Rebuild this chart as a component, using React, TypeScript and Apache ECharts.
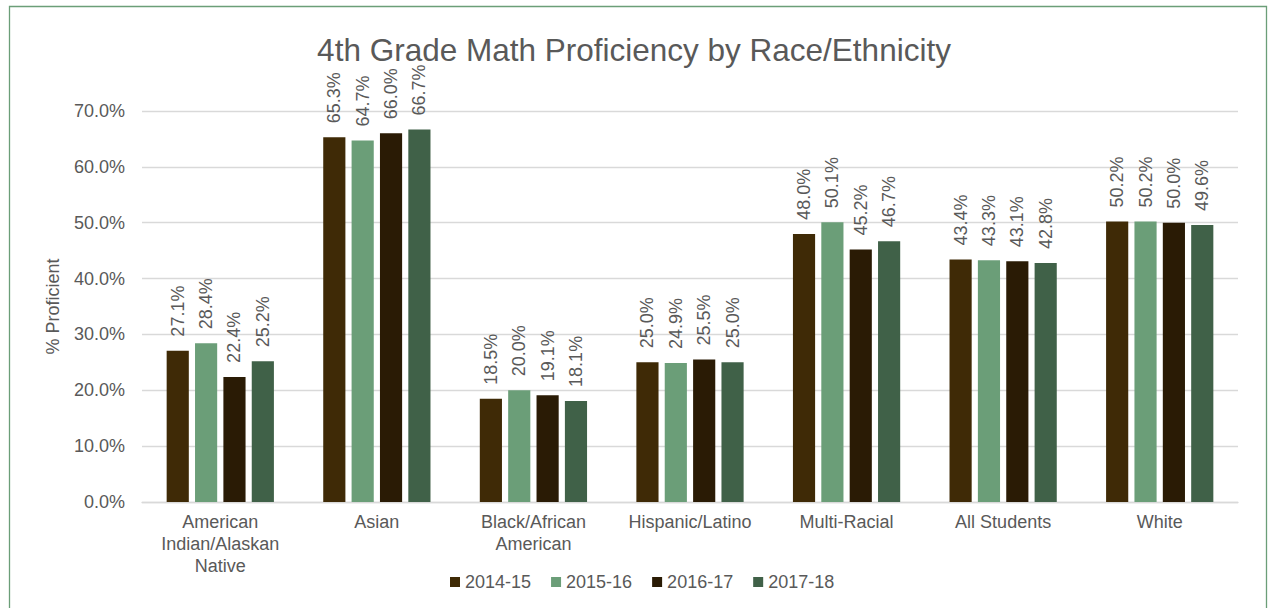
import React, { useEffect, useRef } from "react";
import * as echarts from "echarts";

const categories = [
  "American\nIndian/Alaskan\nNative",
  "Asian",
  "Black/African\nAmerican",
  "Hispanic/Latino",
  "Multi-Racial",
  "All Students",
  "White",
];
const seriesNames = ["2014-15", "2015-16", "2016-17", "2017-18"];
const values2014 = [27.1, 65.3, 18.5, 25.0, 48.0, 43.4, 50.2];
const values2015 = [28.4, 64.7, 20.0, 24.9, 50.1, 43.3, 50.2];
const values2016 = [22.4, 66.0, 19.1, 25.5, 45.2, 43.1, 50.0];
const values2017 = [25.2, 66.7, 18.1, 25.0, 46.7, 42.8, 49.6];
const colors = ["#3f2a06", "#6b9e78", "#2a1b05", "#406148"];

const FONT = "'Liberation Sans', Arial, sans-serif";
const TXT = "#595959";

export default function App() {
  const ref = useRef<HTMLDivElement>(null);
  useEffect(() => {
    if (!ref.current) return;
    const chart = echarts.init(ref.current, null, { renderer: "svg" });
    const all = [values2014, values2015, values2016, values2017];
    chart.setOption({
      animation: false,
      textStyle: { fontFamily: FONT, color: TXT },
      title: {
        text: "4th Grade Math Proficiency by Race/Ethnicity",
        left: "center",
        top: 29,
        textStyle: { fontFamily: FONT, fontSize: 31.5, fontWeight: "normal", color: TXT },
      },
      graphic: [
        {
          type: "rect",
          shape: { x: 9.5, y: 6.5, width: 1257, height: 620 },
          style: { fill: "none", stroke: "#6b9e78", lineWidth: 1.3 },
          silent: true,
        },
      ],
      legend: {
        data: seriesNames,
        left: 445,
        top: 568,
        itemWidth: 10,
        itemHeight: 10,
        itemGap: 20,
        icon: "rect",
        textStyle: { fontFamily: FONT, fontSize: 18, color: TXT },
      },
      grid: { left: 142, right: 30, top: 111, bottom: 106, containLabel: false },
      xAxis: {
        type: "category",
        data: categories,
        axisTick: { show: false },
        axisLine: { lineStyle: { color: "#d9d9d9", width: 1.3 } },
        axisLabel: {
          fontFamily: FONT,
          fontSize: 18,
          color: TXT,
          lineHeight: 22,
          margin: 9,
          interval: 0,
        },
      },
      yAxis: {
        type: "value",
        min: 0,
        max: 70,
        interval: 10,
        name: "% Proficient",
        nameLocation: "middle",
        nameGap: 80,
        nameTextStyle: { fontFamily: FONT, fontSize: 18, color: TXT },
        axisLabel: {
          fontFamily: FONT,
          fontSize: 18,
          color: TXT,
          margin: 17,
          formatter: (v: number) => v.toFixed(1) + "%",
        },
        splitLine: { lineStyle: { color: "#d9d9d9", width: 1.3 } },
      },
      series: seriesNames.map((name, i) => ({
        name,
        type: "bar",
        data: all[i],
        barGap: "28%",
        barCategoryGap: "31.5%",
        itemStyle: { color: colors[i] },
        label: {
          show: true,
          position: "top",
          rotate: 90,
          align: "left",
          verticalAlign: "middle",
          distance: 14,
          fontFamily: FONT,
          fontSize: 18,
          color: TXT,
          formatter: (p: any) => p.value.toFixed(1) + "%",
        },
      })),
    });
    return () => chart.dispose();
  }, []);
  return (
    <div
      ref={ref}
      style={{ position: "fixed", left: 0, top: 0, width: 1268, height: 608, background: "#fff" }}
    />
  );
}
